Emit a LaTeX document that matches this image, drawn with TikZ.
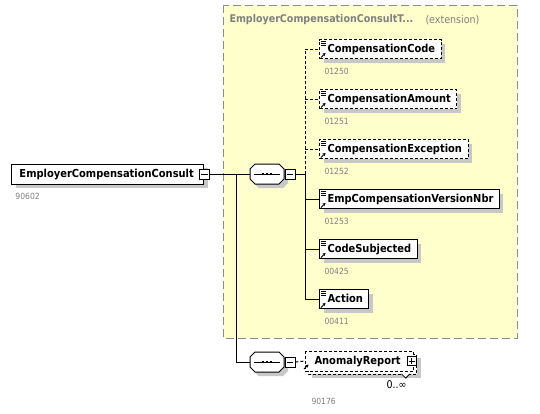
\documentclass[tikz,border=0pt]{standalone}
\usepackage{fontspec}
\newfontfamily\cond{DejaVu Sans Condensed}
\usetikzlibrary{shadows,calc,arrows.meta}
\definecolor{yel}{RGB}{255,255,204}
\definecolor{shd}{RGB}{200,200,200}
\definecolor{lbl}{RGB}{128,128,128}
\definecolor{ygray}{RGB}{140,140,140}
\newcommand{\nmfont}{\cond\bfseries\fontsize{11}{13}\selectfont}
\newcommand{\ttlfont}{\cond\bfseries\fontsize{10.6}{12}\selectfont}
\newcommand{\elemicons}[1]{%
  \draw[line width=0.7pt] ($(#1.north west)+(2,2.5)$) -- +(5,0);
  \draw[line width=0.7pt] ($(#1.north west)+(2,4.5)$) -- +(5,0);
  \draw[line width=0.7pt] ($(#1.north west)+(2,6.5)$) -- +(5,0);
  \draw[line width=1pt,-{Stealth[length=3pt,width=3.5pt]}] ($(#1.south west)+(2,-1.5)$) -- +(4.5,-4.5);
}
\tikzset{
  nm/.style={font=\nmfont, text=black},
  elem/.style={nm, draw=black, fill=white, anchor=west, minimum height=19pt, inner ysep=0pt, inner xsep=6pt, text height=8pt, text depth=2pt, line width=1pt,
    drop shadow={shadow xshift=4pt, shadow yshift=-4pt, fill=shd, opacity=1, draw=none}},
  optelem/.style={elem, dash pattern=on 3pt off 2pt},
  idlbl/.style={font=\cond\fontsize{8.5}{10}\selectfont, text=lbl, anchor=west, inner sep=0pt},
  conn/.style={draw=black, line width=1pt},
  dconn/.style={conn, dash pattern=on 3pt off 2pt},
  pmbox/.style={draw=black, fill=white, minimum size=10pt, inner sep=0pt, line width=0.8pt},
  seqsym/.pic={
    \fill[shd] (-8,-6) -- (16,-6) -- (21,-1) -- (21,9) -- (16,14) -- (-8,14) -- (-13,9) -- (-13,-1) -- cycle;
    \draw[fill=white, line width=1pt] (-12,-10) -- (12,-10) -- (17,-5) -- (17,5) -- (12,10) -- (-12,10) -- (-17,5) -- (-17,-5) -- cycle;
    \draw[line width=1pt] (-13,0) -- (13,0);
    \fill (-5.3,-1.4) rectangle (-2.7,1.4);
    \fill (-1.3,-1.4) rectangle (1.3,1.4);
    \fill (2.7,-1.4) rectangle (5.3,1.4);
    \coordinate (-in) at (-17,0);
  }
}
\begin{document}
\begin{tikzpicture}[x=1pt,y=-1pt, line width=1pt]
\useasboundingbox (0,0) rectangle (540,413);

% extension frame
\draw[fill=yel, draw=ygray, line width=1pt, dash pattern=on 8pt off 4pt] (223,5) rectangle (517,338);
\node[anchor=west, inner sep=0pt, font=\ttlfont, text=lbl] (ttl) at (229,20) {EmployerCompensationConsultT...};
\node[anchor=west, inner sep=0pt, font=\cond\fontsize{10.6}{12}\selectfont, text=lbl] (ext) at (425,20) {(extension)};

% main element
\node[elem, inner xsep=8pt, minimum height=20pt] (main) at (11,174) {EmployerCompensationConsult\hspace*{2pt}};
\node[pmbox] (mm) at (main.east) {};
\draw[line width=0.8pt] ($(mm.west)+(2,0)$) -- ($(mm.east)+(-2,0)$);
\node[idlbl] (mainid) at (15,196) {90602};

% sequences
\pic (s1) at (267,174) {seqsym};
\node[pmbox] (s1m) at (290,174) {};
\draw[line width=0.8pt] ($(s1m.west)+(2,0)$) -- ($(s1m.east)+(-2,0)$);
\pic (s2) at (267,362) {seqsym};
\node[pmbox] (s2m) at (290,362) {};
\draw[line width=0.8pt] ($(s2m.west)+(2,0)$) -- ($(s2m.east)+(-2,0)$);

% children
\node[optelem] (cc) at (319,49) {\hspace*{2pt}CompensationCode};
\node[optelem] (ca) at (319,99) {\hspace*{2pt}CompensationAmount};
\node[optelem] (ce) at (319,149) {\hspace*{2pt}CompensationException};
\node[elem] (ev) at (319,199) {\hspace*{2pt}EmpCompensationVersionNbr};
\node[elem] (cs) at (319,249) {\hspace*{2pt}CodeSubjected};
\node[elem] (ac) at (319,299) {\hspace*{2pt}Action};
\foreach \n in {cc,ca,ce,ev,cs,ac} {\elemicons{\n}}
\node[idlbl] (ccid) at (324,71) {01250};
\node[idlbl] (caid) at (324,121) {01251};
\node[idlbl] (ceid) at (324,171) {01252};
\node[idlbl] (evid) at (324,221) {01253};
\node[idlbl] (csid) at (324,271) {00425};
\node[idlbl] (acid) at (324,321) {00411};

% connectors
\coordinate (j1) at (236,174);
\coordinate (j2) at (236,362);
\coordinate (v) at (305,174);
\coordinate (vt) at (305,49);
\coordinate (vb) at (305,299);
\draw[conn] (mm.east) -- (s1-in);
\draw[conn] (j1) -- (j2) -- (s2-in);
\draw[conn] (s1m.east) -- (v);
\draw[dconn] (v) -- (vt);
\draw[conn] (v) -- (vb);
\draw[dconn] (vt) -- (cc.west);
\draw[dconn] (ca.west -| v) -- (ca.west);
\draw[dconn] (ce.west -| v) -- (ce.west);
\draw[conn] (ev.west -| v) -- (ev.west);
\draw[conn] (cs.west -| v) -- (cs.west);
\draw[conn] (vb) -- (ac.west);

% AnomalyReport (multiple occurrence)
\path node[elem, draw=none, fill=none, drop shadow={opacity=0}, inner xsep=6pt] (ar) at (305,361) {\hspace*{3pt}\phantom{AnomalyReport}\hspace*{6.5pt}};
\fill[shd] ($(ar.north west)+(7,7)$) rectangle ($(ar.south east)+(7,7)$);
\filldraw[fill=white, line width=1pt, dash pattern=on 3pt off 2pt] ($(ar.north west)+(3,3)$) rectangle ($(ar.south east)+(3,3)$);
\filldraw[fill=white, line width=1pt, dash pattern=on 3pt off 2pt] (ar.north west) rectangle (ar.south east);
\draw[line width=0.8pt, fill=white] ($(ar.south east)+(-12,3)$) -- +(4,4) -- +(8,0);
\node[nm, anchor=center, inner xsep=6pt, inner ysep=0pt, minimum height=19pt, text height=8pt, text depth=2pt] (art) at (ar.center) {\hspace*{3pt}AnomalyReport\hspace*{6.5pt}};
\draw[line width=1pt,-{Stealth[length=3pt,width=3.5pt]}] ($(ar.south west)+(-1,-2)$) -- +(4.5,-4.5);
\node[pmbox, minimum size=9pt] (arp) at ($(ar.east)+(-2,0)$) {};
\draw[line width=0.8pt] ($(arp.west)+(2,0)$) -- ($(arp.east)+(-2,0)$);
\draw[line width=0.8pt] ($(arp.north)+(0,2)$) -- ($(arp.south)+(0,-2)$);
\draw[dconn] (s2m.east) -- (ar.west);
\node[anchor=west, inner sep=0pt, font=\cond\fontsize{10.6}{12}\selectfont] (occ) at (386,385) {0..∞};
\node[idlbl] (arid) at (311,401) {90176};
\end{tikzpicture}
\end{document}
